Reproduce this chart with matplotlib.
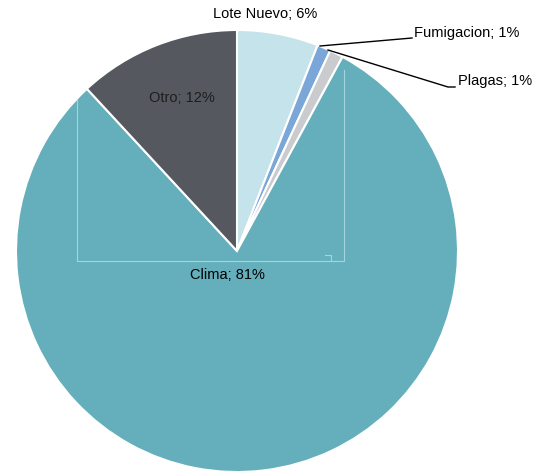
import matplotlib
matplotlib.use("Agg")
import matplotlib.pyplot as plt

# slice data, clockwise from 12 o'clock
labels = ["Lote Nuevo", "Fumigacion", "Plagas", "Clima", "Otro"]
shares = [6, 1, 1, 81, 12]
colors = ["#c4e3ea", "#7aa6d8", "#c9cbce", "#64afbb", "#55585f"]
explode = [0.0, 0.0, 0.0, 0.025, 0.0]

plt.rcParams["font.family"] = ["Liberation Sans Narrow", "Liberation Sans", "DejaVu Sans"]

H = 472


def y(py):
    # pixel row (from top) -> data y
    return H - py


fig = plt.figure(figsize=(5.39, 4.72), dpi=100)
ax = fig.add_axes([0, 0, 1, 1])

wedges, _ = ax.pie(
    shares,
    colors=colors,
    explode=explode,
    startangle=90,
    counterclock=False,
    center=(237, y(251)),
    radius=221,
    wedgeprops=dict(edgecolor="white", linewidth=1.5),
    frame=True,
)
ax.set_xlim(0, 539)
ax.set_ylim(0, H)
ax.set_aspect("equal")
ax.axis("off")

# faint plot-area outline left over in the original
ax.plot([77, 77, 344, 344], [y(100), y(261), y(261), y(70)], color="#a6d4dc", lw=0.8)
ax.plot([325, 331, 331], [y(255), y(255), y(261)], color="#a6d4dc", lw=0.8)

fs = 10.5
ax.text(265, y(14), f"{labels[0]}; {shares[0]}%", ha="center", va="center", fontsize=fs)
ax.text(182, y(98), f"{labels[4]}; {shares[4]}%", ha="center", va="center", fontsize=fs, color="#1e1e1e")
ax.text(227, y(275), f"{labels[3]}; {shares[3]}%", ha="center", va="center", fontsize=fs)

# leader lines for the thin slices
ax.plot([320, 412], [y(46), y(38)], color="black", lw=1)
ax.text(414, y(33), f"{labels[1]}; {shares[1]}%", ha="left", va="center", fontsize=fs)
ax.plot([328, 448, 455], [y(50), y(87), y(87)], color="black", lw=1)
ax.text(458, y(81), f"{labels[2]}; {shares[2]}%", ha="left", va="center", fontsize=fs)

fig.savefig("out.png", dpi=100)
